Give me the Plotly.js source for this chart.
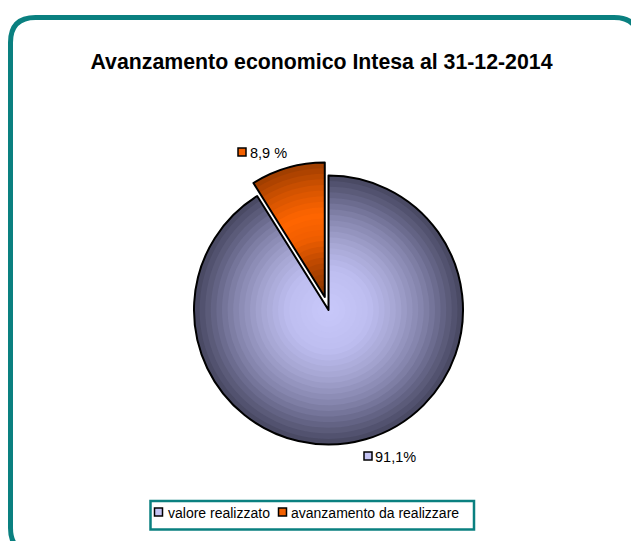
<!DOCTYPE html>
<html><head><meta charset="utf-8">
<script src="https://cdn.plot.ly/plotly-3.0.1.min.js"></script>
<style>html,body{margin:0;padding:0;background:#fff}#chart{width:631px;height:541px}</style>
</head><body><div id="chart"></div>
<script>
// ---- data ----
const categories = ['valore realizzato', 'avanzamento da realizzare'];
const values = [91.1, 8.9];
const dataLabels = ['91,1%', '8,9 %'];
const chartTitle = 'Avanzamento economico Intesa al 31-12-2014';

// ---- style ----
const W = 631, H = 541;
const CX = 328.5, CY = 310, R = 134.5, PULL_PX = 13.5;
const N = 24;
const blueStops = [[0,[200,200,250]],[0.3,[190,190,240]],[0.5,[165,165,210]],[0.7,[132,132,172]],[0.85,[100,100,133]],[1,[70,70,95]]];
const orangeStops = [[0,[130,52,0]],[0.25,[185,70,0]],[0.45,[240,94,0]],[0.62,[255,102,0]],[0.8,[215,84,0]],[1,[155,60,0]]];
const legendColors = ['#c4c4f4', '#f26000'];
const TEAL = '#0a8080';
const FONT = 'Liberation Sans, Arial, sans-serif';

function interp(stops, t) {
  for (let i = 1; i < stops.length; i++) {
    if (t <= stops[i][0]) {
      const [t0, c0] = stops[i-1], [t1, c1] = stops[i];
      const f = (t - t0) / (t1 - t0);
      const c = c0.map((v, j) => Math.round(v + (c1[j] - v) * f));
      return `rgb(${c[0]},${c[1]},${c[2]})`;
    }
  }
  const c = stops[stops.length-1][1];
  return `rgb(${c[0]},${c[1]},${c[2]})`;
}
function domainFor(r, pullPx) {
  const s = r + pullPx;
  return {x: [(CX - s) / W, (CX + s) / W], y: [(H - CY - s) / H, (H - CY + s) / H]};
}
const base = {type: 'pie', labels: categories, values: values, sort: false, direction: 'clockwise',
  rotation: 0, textinfo: 'none', hoverinfo: 'label+percent', showlegend: false};

const traces = [];
// gradient layers
for (let k = 0; k < N; k++) {
  const r = R * (N - k) / N;
  const t = (r - R / (2 * N)) / R;
  traces.push(Object.assign({}, base, {domain: domainFor(r, PULL_PX),
    pull: [0, PULL_PX / r],
    marker: {colors: [interp(blueStops, t), interp(orangeStops, t)], line: {width: 0}}}));
}
// outline
traces.push(Object.assign({}, base, {domain: domainFor(R, PULL_PX), pull: [0, PULL_PX / R],
  marker: {colors: ['rgba(0,0,0,0)', 'rgba(0,0,0,0)'], line: {color: '#000', width: 2}}}));

const px = x => x / W, py = y => 1 - y / H;
function framePath(x0, y0, x1, y1, r) {
  const P = (x, y) => `${px(x)},${py(y)}`;
  return `M ${P(x0+r,y0)} L ${P(x1-r,y0)} Q ${P(x1,y0)} ${P(x1,y0+r)} L ${P(x1,y1-r)} Q ${P(x1,y1)} ${P(x1-r,y1)} ` +
         `L ${P(x0+r,y1)} Q ${P(x0,y1)} ${P(x0,y1-r)} L ${P(x0,y0+r)} Q ${P(x0,y0)} ${P(x0+r,y0)} Z`;
}
const shapes = [{type: 'path', xref: 'paper', yref: 'paper', path: framePath(10.5, 17.5, 639, 553, 25),
  line: {color: TEAL, width: 5}}];
const annotations = [];
function swatch(x, y, color) {
  shapes.push({type: 'rect', xref: 'paper', yref: 'paper', x0: px(x), x1: px(x + 8),
    y0: py(y), y1: py(y + 8), fillcolor: color, line: {color: '#000', width: 1.5}});
}
function label(x, y, text, size) {
  annotations.push({xref: 'paper', yref: 'paper', x: px(x), y: py(y), xanchor: 'left', yanchor: 'middle',
    text: text, showarrow: false, font: {family: FONT, size: size, color: '#000'}});
}
// data labels
const labelPos = [{sq: [364, 452], tx: 373, ty: 456.5}, {sq: [238, 148], tx: 247.5, ty: 152.5}];
labelPos.forEach((p, i) => { swatch(p.sq[0], p.sq[1], legendColors[i]); label(p.tx, p.ty, dataLabels[i], 14.5); });
// legend box
shapes.push({type: 'rect', xref: 'paper', yref: 'paper', x0: px(150.5), x1: px(474), y0: py(501), y1: py(529.5),
  line: {color: TEAL, width: 2.5}, fillcolor: 'rgba(0,0,0,0)'});
const legendPos = [{sq: [154.5, 508], tx: 165.5}, {sq: [278.5, 508], tx: 288.5}];
legendPos.forEach((p, i) => { swatch(p.sq[0], p.sq[1], legendColors[i]); label(p.tx, 512.5, categories[i], 14); });

const layout = {
  width: W, height: H, margin: {l: 0, r: 0, t: 0, b: 0}, paper_bgcolor: '#fff',
  title: {text: '<b>' + chartTitle + '</b>', x: 321.5 / W, xanchor: 'center', y: py(62), yanchor: 'middle',
    font: {family: FONT, size: 21.3, color: '#000'}},
  showlegend: false,
  shapes: shapes, annotations: annotations
};
Plotly.newPlot('chart', traces, layout, {displayModeBar: false, staticPlot: true});
</script></body></html>
